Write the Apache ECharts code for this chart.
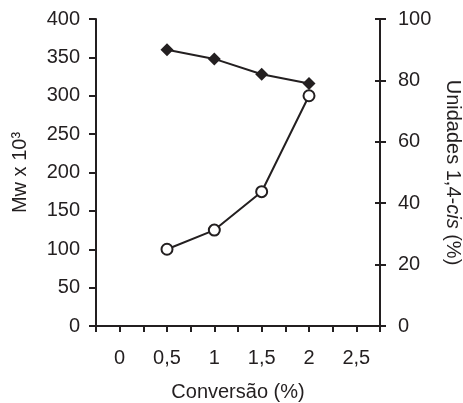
<!DOCTYPE html>
<html>
<head>
<meta charset="utf-8">
<script src="https://cdn.jsdelivr.net/npm/echarts@6/dist/echarts.min.js"></script>
<style>
  html, body { margin: 0; padding: 0; background: #fff; }
  #chart { width: 463px; height: 403px; }
</style>
</head>
<body>
<div id="chart"></div>
<script>
// Conversion (%) vs. molecular weight and 1,4-cis content
const conversao = [0.5, 1, 1.5, 2];
const mwValues = [100, 125, 175, 300];      // Mw x 10^3 (left axis)
const cisValues = [90, 87, 82, 79];         // 1,4-cis units, % (right axis)
const xTickLabels = ['0', '0,5', '1', '1,5', '2', '2,5'];

const ink = '#231f20';
const font = '"Liberation Sans", Arial, Helvetica, sans-serif';

function xLabel(v) {
  const idx = Math.round(v * 2);
  if (Math.abs(v * 2 - idx) > 1e-6 || idx < 0 || idx >= xTickLabels.length) return '';
  return xTickLabels[idx];
}

const chart = echarts.init(document.getElementById('chart'), null, { renderer: 'canvas' });

chart.setOption({
  backgroundColor: '#fff',
  animation: false,
  textStyle: { fontFamily: font, color: ink },
  grid: { left: 96, right: 83, top: 19, bottom: 77, containLabel: false, outerBoundsMode: 'none' },
  xAxis: {
    type: 'value',
    min: -0.25,
    max: 2.75,
    interval: 0.25,
    name: 'Conversão (%)',
    nameLocation: 'middle',
    nameGap: 56,
    nameTextStyle: { fontSize: 20, color: ink, fontFamily: font },
    axisLine: { show: true, onZero: false, lineStyle: { color: ink, width: 2 } },
    axisTick: { show: true, inside: false, length: 6, lineStyle: { color: ink, width: 2 } },
    axisLabel: { formatter: xLabel, fontSize: 20, color: ink, margin: 22, fontFamily: font,
                 showMinLabel: true, showMaxLabel: true },
    splitLine: { show: false }
  },
  yAxis: [
    {
      type: 'value',
      position: 'left',
      min: 0, max: 400, interval: 50,
      name: 'Mw x 10³',
      nameLocation: 'middle',
      nameGap: 66,
      nameTextStyle: { fontSize: 20, color: ink, fontFamily: font },
      axisLine: { show: true, onZero: false, lineStyle: { color: ink, width: 2 } },
      axisTick: { show: true, inside: false, length: 7, lineStyle: { color: ink, width: 2 } },
      axisLabel: { fontSize: 20, color: ink, margin: 16, fontFamily: font },
      splitLine: { show: false }
    },
    {
      type: 'value',
      position: 'right',
      min: 0, max: 100, interval: 20,
      name: 'Unidades 1,4-{i|cis} (%)',
      nameLocation: 'middle',
      nameRotate: -90,
      nameGap: 62,
      nameTextStyle: { fontSize: 20, color: ink, fontFamily: font,
                       rich: { i: { fontSize: 20, fontStyle: 'italic', color: ink, fontFamily: font } } },
      axisLine: { show: true, onZero: false, lineStyle: { color: ink, width: 2 } },
      axisTick: { show: true, inside: false, length: 6, lineStyle: { color: ink, width: 2 } },
      axisLabel: { fontSize: 20, color: ink, margin: 18, fontFamily: font },
      splitLine: { show: false }
    },
    {
      // inward half of the crossing ticks on the right axis
      type: 'value',
      position: 'right',
      min: 0, max: 100, interval: 20,
      axisLine: { show: false, onZero: false },
      axisTick: { show: true, inside: true, length: 5, lineStyle: { color: ink, width: 2 } },
      axisLabel: { show: false },
      splitLine: { show: false }
    }
  ],
  series: [
    {
      name: 'Mw',
      type: 'line',
      yAxisIndex: 0,
      data: conversao.map((x, i) => [x, mwValues[i]]),
      symbol: 'circle',
      symbolSize: 11,
      showAllSymbol: true,
      lineStyle: { color: ink, width: 2 },
      itemStyle: { color: '#fff', borderColor: ink, borderWidth: 2 },
      z: 3
    },
    {
      name: '1,4-cis',
      type: 'line',
      yAxisIndex: 1,
      data: conversao.map((x, i) => [x, cisValues[i]]),
      symbol: 'diamond',
      symbolSize: 13,
      lineStyle: { color: ink, width: 2 },
      itemStyle: { color: ink, borderColor: ink, borderWidth: 0 },
      z: 4
    }
  ]
});
</script>
</body>
</html>
